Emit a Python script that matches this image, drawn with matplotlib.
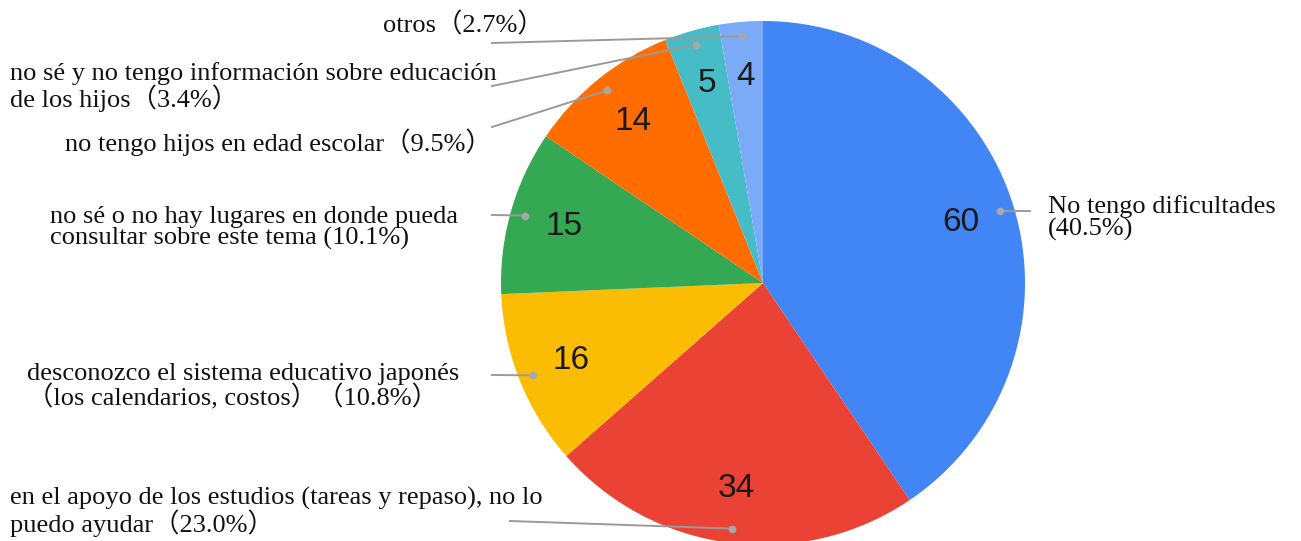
import numpy as np
import matplotlib
matplotlib.use("Agg")
import matplotlib.pyplot as plt

values = [60, 34, 16, 15, 14, 5, 4]
colors = ["#4285F4", "#EA4335", "#FBBC04", "#34A853", "#FF6D01", "#46BDC6", "#7BAAF7"]
labels = [
    "No tengo dificultades\n(40.5%)",
    "en el apoyo de los estudios (tareas y repaso), no lo\npuedo ayudar（23.0%）",
    "desconozco el sistema educativo japonés\n（los calendarios, costos）（10.8%）",
    "no sé o no hay lugares en donde pueda\nconsultar sobre este tema (10.1%)",
    "no tengo hijos en edad escolar（9.5%）",
    "no sé y no tengo información sobre educación\nde los hijos（3.4%）",
    "otros（2.7%）",
]

W, H = 1301, 541
fig = plt.figure(figsize=(W / 100, H / 100), dpi=100)
ax = fig.add_axes([0, 0, 1, 1])

cx, cy, R = 763, H - 283, 262
wedges, _, autotexts = ax.pie(
    values, colors=colors, startangle=90, counterclock=False,
    center=(cx, cy), radius=R, frame=True,
    autopct=lambda p: f"{round(p * sum(values) / 100):d}", pctdistance=0.79,
    wedgeprops=dict(linewidth=0),
    textprops=dict(fontsize=24, family="Liberation Sans", color="#1a1a1a"),
)
ax.set_xlim(0, W)
ax.set_ylim(0, H)
ax.set_aspect("equal")
ax.axis("off")

serif = ["Liberation Serif", "Noto Sans CJK JP"]
# text layout: (x, y_center_pixel, ha) and leader end point (x, y_pixel)
layout = [
    (1048, 218, "left", (1030, None)),
    (10, 512, "left", (510, 521)),
    (27, 387, "left", (492, 375)),
    (50, 228, "left", (492, 215)),
    (65, 142, "left", (492, 127)),
    (10, 87, "left", (492, 86)),
    (544, 25, "right", (492, 43)),
]
for w, lab, (tx, ty, ha, (lx, ly)) in zip(wedges, labels, layout):
    mid = np.deg2rad((w.theta1 + w.theta2) / 2)
    dx = cx + 0.945 * R * np.cos(mid)
    dy = cy + 0.945 * R * np.sin(mid)
    ly2 = dy if ly is None else H - ly
    ax.plot([dx, lx], [dy, ly2], color="#9a9a9a", lw=1.4, zorder=3)
    ax.plot([dx], [dy], "o", color="#a8a8a8", ms=4.5, zorder=4)
    ax.text(tx, H - ty, lab, ha=ha, va="center", fontsize=19, family=serif,
            color="#111111", linespacing=0.97)

fig.savefig("out.png", dpi=100)
